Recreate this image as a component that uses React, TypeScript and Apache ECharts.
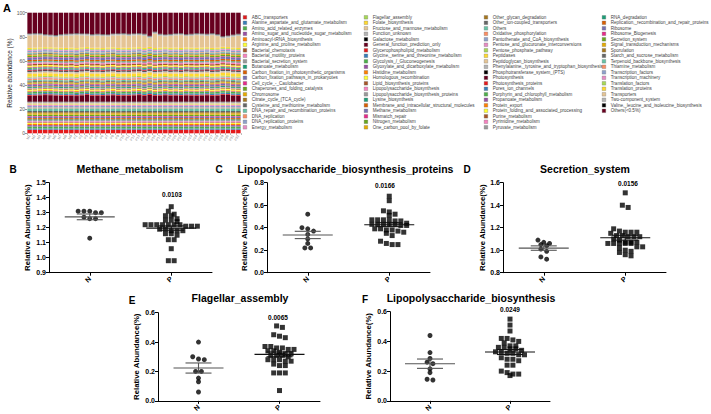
import React, { useEffect, useRef } from 'react';
import * as echarts from 'echarts';

// ---------- Panel A data ----------
const sampleNames = [
  'N1', 'N2', 'N3', 'N4', 'N5', 'N6', 'N7', 'N8', 'N9',
  'P1', 'P2', 'P3', 'P4', 'P5', 'P6', 'P7', 'P8', 'P9', 'P10', 'P11', 'P12', 'P13', 'P14', 'P15', 'P16',
  'P17', 'P18', 'P19', 'P20', 'P21', 'P22', 'P23', 'P24', 'P25', 'P26', 'P27', 'P28', 'P29', 'P30', 'P31', 'P32',
];

const pathwayNames = [
  'ABC_transporters', 'Alanine_aspartate_and_glutamate_metabolism', 'Amino_acid_related_enzymes',
  'Amino_sugar_and_nucleotide_sugar_metabolism', 'Aminoacyl-tRNA_biosynthesis', 'Arginine_and_proline_metabolism',
  'Bacterial_chemotaxis', 'Bacterial_motility_proteins', 'Bacterial_secretion_system', 'Butanoate_metabolism',
  'Carbon_fixation_in_photosynthetic_organisms', 'Carbon_fixation_pathways_in_prokaryotes', 'Cell_cycle_-_Caulobacter',
  'Chaperones_and_folding_catalysts', 'Chromosome', 'Citrate_cycle_(TCA_cycle)', 'Cysteine_and_methionine_metabolism',
  'DNA_repair_and_recombination_proteins', 'DNA_replication', 'DNA_replication_proteins', 'Energy_metabolism',
  'Flagellar_assembly', 'Folate_biosynthesis', 'Fructose_and_mannose_metabolism', 'Function_unknown',
  'Galactose_metabolism', 'General_function_prediction_only', 'Glycerophospholipid_metabolism',
  'Glycine,_serine_and_threonine_metabolism', 'Glycolysis_/_Gluconeogenesis', 'Glyoxylate_and_dicarboxylate_metabolism',
  'Histidine_metabolism', 'Homologous_recombination', 'Lipid_biosynthesis_proteins', 'Lipopolysaccharide_biosynthesis',
  'Lipopolysaccharide_biosynthesis_proteins', 'Lysine_biosynthesis', 'Membrane_and_intracellular_structural_molecules',
  'Methane_metabolism', 'Mismatch_repair', 'Nitrogen_metabolism', 'One_carbon_pool_by_folate',
  'Other_glycan_degradation', 'Other_ion-coupled_transporters', 'Others', 'Oxidative_phosphorylation',
  'Pantothenate_and_CoA_biosynthesis', 'Pentose_and_glucuronate_interconversions', 'Pentose_phosphate_pathway',
  'Peptidases', 'Peptidoglycan_biosynthesis', 'Phenylalanine,_tyrosine_and_tryptophan_biosynthesis',
  'Phosphotransferase_system_(PTS)', 'Photosynthesis', 'Photosynthesis_proteins', 'Pores_ion_channels',
  'Porphyrin_and_chlorophyll_metabolism', 'Propanoate_metabolism', 'Protein_export',
  'Protein_folding_and_associated_processing', 'Purine_metabolism', 'Pyrimidine_metabolism', 'Pyruvate_metabolism',
  'RNA_degradation', 'Replication,_recombination_and_repair_proteins', 'Ribosome', 'Ribosome_Biogenesis',
  'Secretion_system', 'Signal_transduction_mechanisms', 'Sporulation', 'Starch_and_sucrose_metabolism',
  'Terpenoid_backbone_biosynthesis', 'Thiamine_metabolism', 'Transcription_factors', 'Transcription_machinery',
  'Translation_factors', 'Translation_proteins', 'Transporters', 'Two-component_system',
  'Valine,_leucine_and_isoleucine_biosynthesis', 'Others(<0.5%)',
];

// typical abundance (%) of each pathway, same order as pathwayNames
// (entries for General_function_prediction_only, Transporters and Others(<0.5%) are per-sample below)
const typicalAbundance = [
  3.0, 1.0, 1.6, 1.2, 0.9, 0.8, 0.6, 0.9, 0.9, 0.7,
  1.0, 1.2, 0.5, 1.1, 1.2, 0.9, 1.0, 2.2, 0.7, 1.3,
  1.0, 0.3, 0.4, 0.6, 0.9, 0.4, 0, 0.7, 1.0, 1.3,
  0.5, 0.7, 0.9, 0.6, 0.3, 0.4, 0.8, 0.5, 1.2, 0.6,
  0.5, 0.7, 0.5, 0.8, 0.9, 1.2, 0.5, 0.4, 0.9, 2.2,
  1.1, 0.8, 0.5, 0.4, 0.6, 0.7, 0.8, 0.6, 0.5, 0.9,
  1.2, 1.0, 0.8, 0.5, 1.2, 1.8, 0.5, 1.1, 0.8, 0.3,
  0.7, 0.6, 0.5, 1.3, 0.8, 0.7, 0.9, 0, 1.2, 0.4, 0,
];

const generalFunctionBySample = [
  4.8, 5.0, 5.2, 5.4, 5.3, 5.1, 4.9, 4.8, 5.0, 4.6, 5.2, 5.5, 4.9, 5.0, 4.7, 5.1, 5.3, 4.8, 5.0, 4.9, 5.2,
  5.4, 4.8, 5.6, 4.7, 5.0, 5.3, 4.9, 5.1, 4.8, 5.2, 5.0, 4.9, 5.1, 5.3, 4.8, 5.0, 5.7, 5.5, 5.0, 4.8,
];

const othersLowBySample = [
  17.2, 17.0, 17.0, 17.8, 18.2, 18.5, 17.8, 17.5, 17.3, 17.0, 17.2, 17.3, 17.8, 17.5, 17.8, 18.0, 17.3, 17.2,
  17.0, 17.5, 17.2, 17.0, 17.5, 19.2, 15.8, 17.5, 18.0, 17.6, 17.2, 17.0, 17.8, 17.5, 17.0, 17.2, 17.5, 17.0,
  17.8, 19.5, 19.0, 18.2, 17.5,
];

const palette = [
  '#E41A1C', '#377EB8', '#4DAF4A', '#984EA3', '#FF7F00', '#FFFF33', '#A65628', '#F781BF', '#999999',
  '#1B9E77', '#D95F02', '#7570B3', '#E7298A', '#66A61E', '#E6AB02', '#A6761D', '#666666',
  '#66C2A5', '#FC8D62', '#8DA0CB', '#E78AC3', '#A6D854', '#FFD92F', '#E5C494', '#B3B3B3',
  '#000000', '#67001F',
];

// ---------- Scatter panels data ----------
const groupLabels = ['N', 'P'];
const methaneN = [1.31, 1.31, 1.30, 1.30, 1.31, 1.26, 1.26, 1.27, 1.13];
const methaneP = [1.34, 1.31, 1.29, 1.28, 1.28, 1.26, 1.25, 1.25, 1.24, 1.22, 1.22, 1.21, 1.22, 1.22, 1.21, 1.22,
  1.21, 1.22, 1.22, 1.19, 1.18, 1.19, 1.18, 1.18, 1.16, 1.15, 1.16, 1.12, 1.12, 1.06, 0.98, 0.98];
const lpsProteinsN = [0.52, 0.40, 0.39, 0.37, 0.34, 0.30, 0.26, 0.22, 0.22];
const lpsProteinsP = [0.68, 0.64, 0.55, 0.54, 0.52, 0.51, 0.47, 0.47, 0.46, 0.46, 0.47, 0.47, 0.43, 0.43, 0.44, 0.43,
  0.42, 0.43, 0.42, 0.43, 0.39, 0.39, 0.38, 0.38, 0.37, 0.36, 0.35, 0.33, 0.28, 0.26, 0.25, 0.25];
const secretionN = [1.07, 1.05, 1.06, 1.09, 1.01, 0.99, 1.04, 0.92, 0.94];
const secretionP = [1.51, 1.40, 1.38, 1.19, 1.16, 1.16, 1.15, 1.16, 1.17, 1.13, 1.12, 1.12, 1.13, 1.12, 1.10, 1.09,
  1.07, 1.06, 1.06, 1.06, 1.07, 1.06, 1.06, 1.07, 1.03, 1.02, 1.03, 0.99, 0.98, 1.00, 0.95, 0.96];
const flagellarN = [0.40, 0.285, 0.28, 0.30, 0.20, 0.20, 0.155, 0.13, 0.06];
const flagellarP = [0.51, 0.50, 0.45, 0.44, 0.43, 0.37, 0.36, 0.36, 0.37, 0.35, 0.34, 0.34, 0.33, 0.35, 0.31, 0.31,
  0.32, 0.30, 0.32, 0.31, 0.28, 0.28, 0.27, 0.28, 0.27, 0.25, 0.24, 0.24, 0.19, 0.19, 0.19, 0.07];
const lpsN = [0.44, 0.325, 0.285, 0.25, 0.26, 0.215, 0.19, 0.14, 0.145];
const lpsP = [0.55, 0.51, 0.47, 0.42, 0.41, 0.42, 0.40, 0.39, 0.37, 0.37, 0.36, 0.35, 0.36, 0.35, 0.34, 0.33,
  0.33, 0.32, 0.31, 0.31, 0.32, 0.29, 0.28, 0.28, 0.27, 0.24, 0.24, 0.20, 0.19, 0.18, 0.17, 0.18];

const panelTitles = ['Methane_metabolism', 'Lipopolysaccharide_biosynthesis_proteins', 'Secretion_system',
  'Flagellar_assembly', 'Lipopolysaccharide_biosynthesis'];
const panelLetters = ['B', 'C', 'D', 'E', 'F'];
const pValues = ['0.0103', '0.0166', '0.0156', '0.0065', '0.0249'];
const yMins = [0.9, 0.0, 0.8, 0.0, 0.0];
const yMaxs = [1.5, 0.8, 1.6, 0.6, 0.6];
const yIntervals = [0.1, 0.2, 0.2, 0.2, 0.2];

// layout (pixels)
const layouts = [
  { grid: { left: 49, top: 182.7, width: 163, height: 90 }, letter: [13, 169], title: [130, 169], p: [172, 194], nameGap: 18 },
  { grid: { left: 267, top: 182.7, width: 163, height: 90 }, letter: [219, 169], title: [345.5, 169], p: [385, 185.5], nameGap: 19 },
  { grid: { left: 503, top: 182.7, width: 163, height: 90 }, letter: [467, 169], title: [585, 169], p: [628, 183.5], nameGap: 14 },
  { grid: { left: 158, top: 312.7, width: 162, height: 89 }, letter: [132, 300], title: [240, 298], p: [278, 317], nameGap: 18 },
  { grid: { left: 390, top: 311.7, width: 160, height: 89.5 }, letter: [365, 299], title: [471, 298], p: [510, 309], nameGap: 18 },
];

const FONT = 'Liberation Sans, Arial, sans-serif';

function mean(a: number[]) { return a.reduce((s, v) => s + v, 0) / a.length; }
function sem(a: number[]) {
  const m = mean(a);
  const sd = Math.sqrt(a.reduce((s, v) => s + (v - m) * (v - m), 0) / (a.length - 1));
  return sd / Math.sqrt(a.length);
}

// Prism-like column scatter: values in similar rows are spread horizontally
function swarm(values: number[], center: number, pxPerX: number, pxPerY: number) {
  const idx = values.map((v, i) => i).sort((a, b) => values[b] - values[a]);
  const rows: number[][] = [];
  let cur: number[] = [];
  let start = 0;
  idx.forEach((i) => {
    if (cur.length === 0) { cur = [i]; start = values[i]; return; }
    if ((start - values[i]) * pxPerY <= 3.5) cur.push(i);
    else { rows.push(cur); cur = [i]; start = values[i]; }
  });
  if (cur.length) rows.push(cur);
  const out: number[][] = [];
  const step = 5.8 / pxPerX;
  rows.forEach((r) => {
    r.forEach((i, j) => {
      out.push([center + (j - (r.length - 1) / 2) * step, values[i]]);
    });
  });
  return out;
}

export default function App() {
  const ref = useRef<HTMLDivElement>(null);
  useEffect(() => {
    if (!ref.current) return;
    const chart = echarts.init(ref.current, undefined, { renderer: 'svg' });

    const constSum = typicalAbundance.reduce((s, v) => s + v, 0);
    const gfIdx = pathwayNames.indexOf('General_function_prediction_only');
    const trIdx = pathwayNames.indexOf('Transporters');
    const olIdx = pathwayNames.indexOf('Others(<0.5%)');

    const barSeries = pathwayNames.map((name, k) => ({
      type: 'bar',
      name,
      stack: 'total',
      xAxisIndex: 0,
      yAxisIndex: 0,
      barCategoryGap: '14%',
      itemStyle: { color: palette[k % palette.length] },
      data: sampleNames.map((_, s) => {
        if (k === gfIdx) return generalFunctionBySample[s];
        if (k === olIdx) return othersLowBySample[s];
        if (k === trIdx) return +(100 - constSum - generalFunctionBySample[s] - othersLowBySample[s]).toFixed(2);
        return typicalAbundance[k];
      }),
    }));

    const groups = [
      [methaneN, methaneP], [lpsProteinsN, lpsProteinsP], [secretionN, secretionP], [flagellarN, flagellarP], [lpsN, lpsP],
    ];

    const grids: any[] = [{ left: 27, top: 12.7, width: 214, height: 120.6 }];
    const xAxes: any[] = [{
      type: 'category', gridIndex: 0, data: sampleNames,
      axisLine: { show: false }, axisTick: { show: true, length: 1.5, lineStyle: { color: '#555', width: 0.5 } },
      axisLabel: { fontSize: 3.5, rotate: 60, interval: 0, color: '#888', margin: 2, fontFamily: FONT },
    }];
    const yAxes: any[] = [{
      type: 'value', gridIndex: 0, min: 0, max: 100, interval: 20,
      name: 'Relative abundance (%)', nameLocation: 'middle', nameGap: 11, nameRotate: 90,
      nameTextStyle: { fontSize: 6.5, color: '#222', fontFamily: FONT },
      axisLine: { show: false }, axisTick: { show: true, length: 2, lineStyle: { color: '#555', width: 0.6 } },
      splitLine: { show: false },
      axisLabel: { fontSize: 5, color: '#555', margin: 2, fontFamily: FONT },
    }];
    const series: any[] = [...barSeries];
    const graphics: any[] = [
      { type: 'text', x: 3, y: 2, style: { text: 'A', fontSize: 11, fontWeight: 'bold', fill: '#000', fontFamily: FONT } },
    ];

    groups.forEach(([gN, gP], i) => {
      const L = layouts[i];
      const gi = i + 1;
      grids.push(L.grid);
      const pxPerX = L.grid.width / 2;
      const pxPerY = L.grid.height / (yMaxs[i] - yMins[i]);
      xAxes.push({
        type: 'value', gridIndex: gi, min: 0, max: 2,
        axisLine: { show: true, lineStyle: { color: '#000', width: 1 } },
        axisTick: { show: true, customValues: [0.5, 1.5], length: 3, lineStyle: { color: '#000', width: 1 } },
        axisLabel: {
          customValues: [0.5, 1.5], rotate: 45, fontSize: 7, fontWeight: 'bold', color: '#000', margin: 5, fontFamily: FONT,
          formatter: (v: number) => (v < 1 ? groupLabels[0] : groupLabels[1]),
        },
        splitLine: { show: false },
      });
      yAxes.push({
        type: 'value', gridIndex: gi, min: yMins[i], max: yMaxs[i], interval: yIntervals[i],
        name: 'Relative Abundance(%)', nameLocation: 'middle', nameGap: L.nameGap, nameRotate: 90,
        nameTextStyle: { fontSize: 7.8, fontWeight: 'bold', color: '#000', fontFamily: FONT },
        axisLine: { show: true, lineStyle: { color: '#000', width: 1 } },
        axisTick: { show: true, length: 3, lineStyle: { color: '#000', width: 1 } },
        axisLabel: { fontSize: 7, fontWeight: 'bold', color: '#000', margin: 3, fontFamily: FONT,
          formatter: (v: number) => v.toFixed(1) },
        splitLine: { show: false },
      });
      series.push({
        type: 'scatter', xAxisIndex: gi, yAxisIndex: gi, symbol: 'circle', symbolSize: 5,
        itemStyle: { color: '#000' }, data: swarm(gN, 0.5, pxPerX, pxPerY), z: 2,
      });
      series.push({
        type: 'scatter', xAxisIndex: gi, yAxisIndex: gi, symbol: 'rect', symbolSize: 5,
        itemStyle: { color: '#000' }, data: swarm(gP, 1.5, pxPerX, pxPerY), z: 2,
      });
      series.push({
        type: 'custom', xAxisIndex: gi, yAxisIndex: gi, z: 5, silent: true,
        data: [[0.5, mean(gN), sem(gN)], [1.5, mean(gP), sem(gP)]],
        renderItem: (params: any, api: any) => {
          const x = api.value(0);
          const m = api.value(1);
          const s = api.value(2);
          const c = api.coord([x, m]);
          const t = api.coord([x, m + s]);
          const b = api.coord([x, m - s]);
          const stroke = params.dataIndex === 0 ? '#555' : '#111';
          const st = { stroke, lineWidth: 1.1 };
          return {
            type: 'group',
            children: [
              { type: 'line', shape: { x1: c[0] - 25, y1: c[1], x2: c[0] + 25, y2: c[1] }, style: st },
              { type: 'line', shape: { x1: c[0] - 13, y1: t[1], x2: c[0] + 13, y2: t[1] }, style: st },
              { type: 'line', shape: { x1: c[0] - 13, y1: b[1], x2: c[0] + 13, y2: b[1] }, style: st },
              { type: 'line', shape: { x1: c[0], y1: t[1], x2: c[0], y2: b[1] }, style: st },
            ],
          };
        },
      });
      graphics.push({ type: 'text', x: L.letter[0], y: L.letter[1], style: { text: panelLetters[i], fontSize: 10, fontWeight: 'bold', fill: '#000', textAlign: 'center', textVerticalAlign: 'middle', fontFamily: FONT } });
      graphics.push({ type: 'text', x: L.title[0], y: L.title[1], style: { text: panelTitles[i], fontSize: 10.5, fontWeight: 'bold', fill: '#000', textAlign: 'center', textVerticalAlign: 'middle', fontFamily: FONT } });
      graphics.push({ type: 'text', x: L.p[0], y: L.p[1], style: { text: pValues[i], fontSize: 6.5, fontWeight: 'bold', fill: '#000', textAlign: 'center', textVerticalAlign: 'middle', fontFamily: FONT } });
    });

    const legendLefts = [243, 364, 484, 602];
    const legends = legendLefts.map((left, c) => ({
      data: pathwayNames.slice(c * 21, c * 21 + 21),
      orient: 'vertical', left, top: 14.8, padding: 0,
      itemWidth: 3.6, itemHeight: 3.6, itemGap: 0.5, icon: 'rect', selectedMode: false,
      itemStyle: { borderColor: '#666', borderWidth: 0.3 },
      textStyle: { fontSize: 4.55, color: '#444', fontFamily: FONT },
    }));

    chart.setOption({
      animation: false,
      backgroundColor: '#fff',
      grid: grids,
      xAxis: xAxes,
      yAxis: yAxes,
      legend: legends,
      series,
      graphic: graphics,
    });
    return () => chart.dispose();
  }, []);
  return <div ref={ref} style={{ position: 'fixed', left: 0, top: 0, width: 711, height: 414 }} />;
}
